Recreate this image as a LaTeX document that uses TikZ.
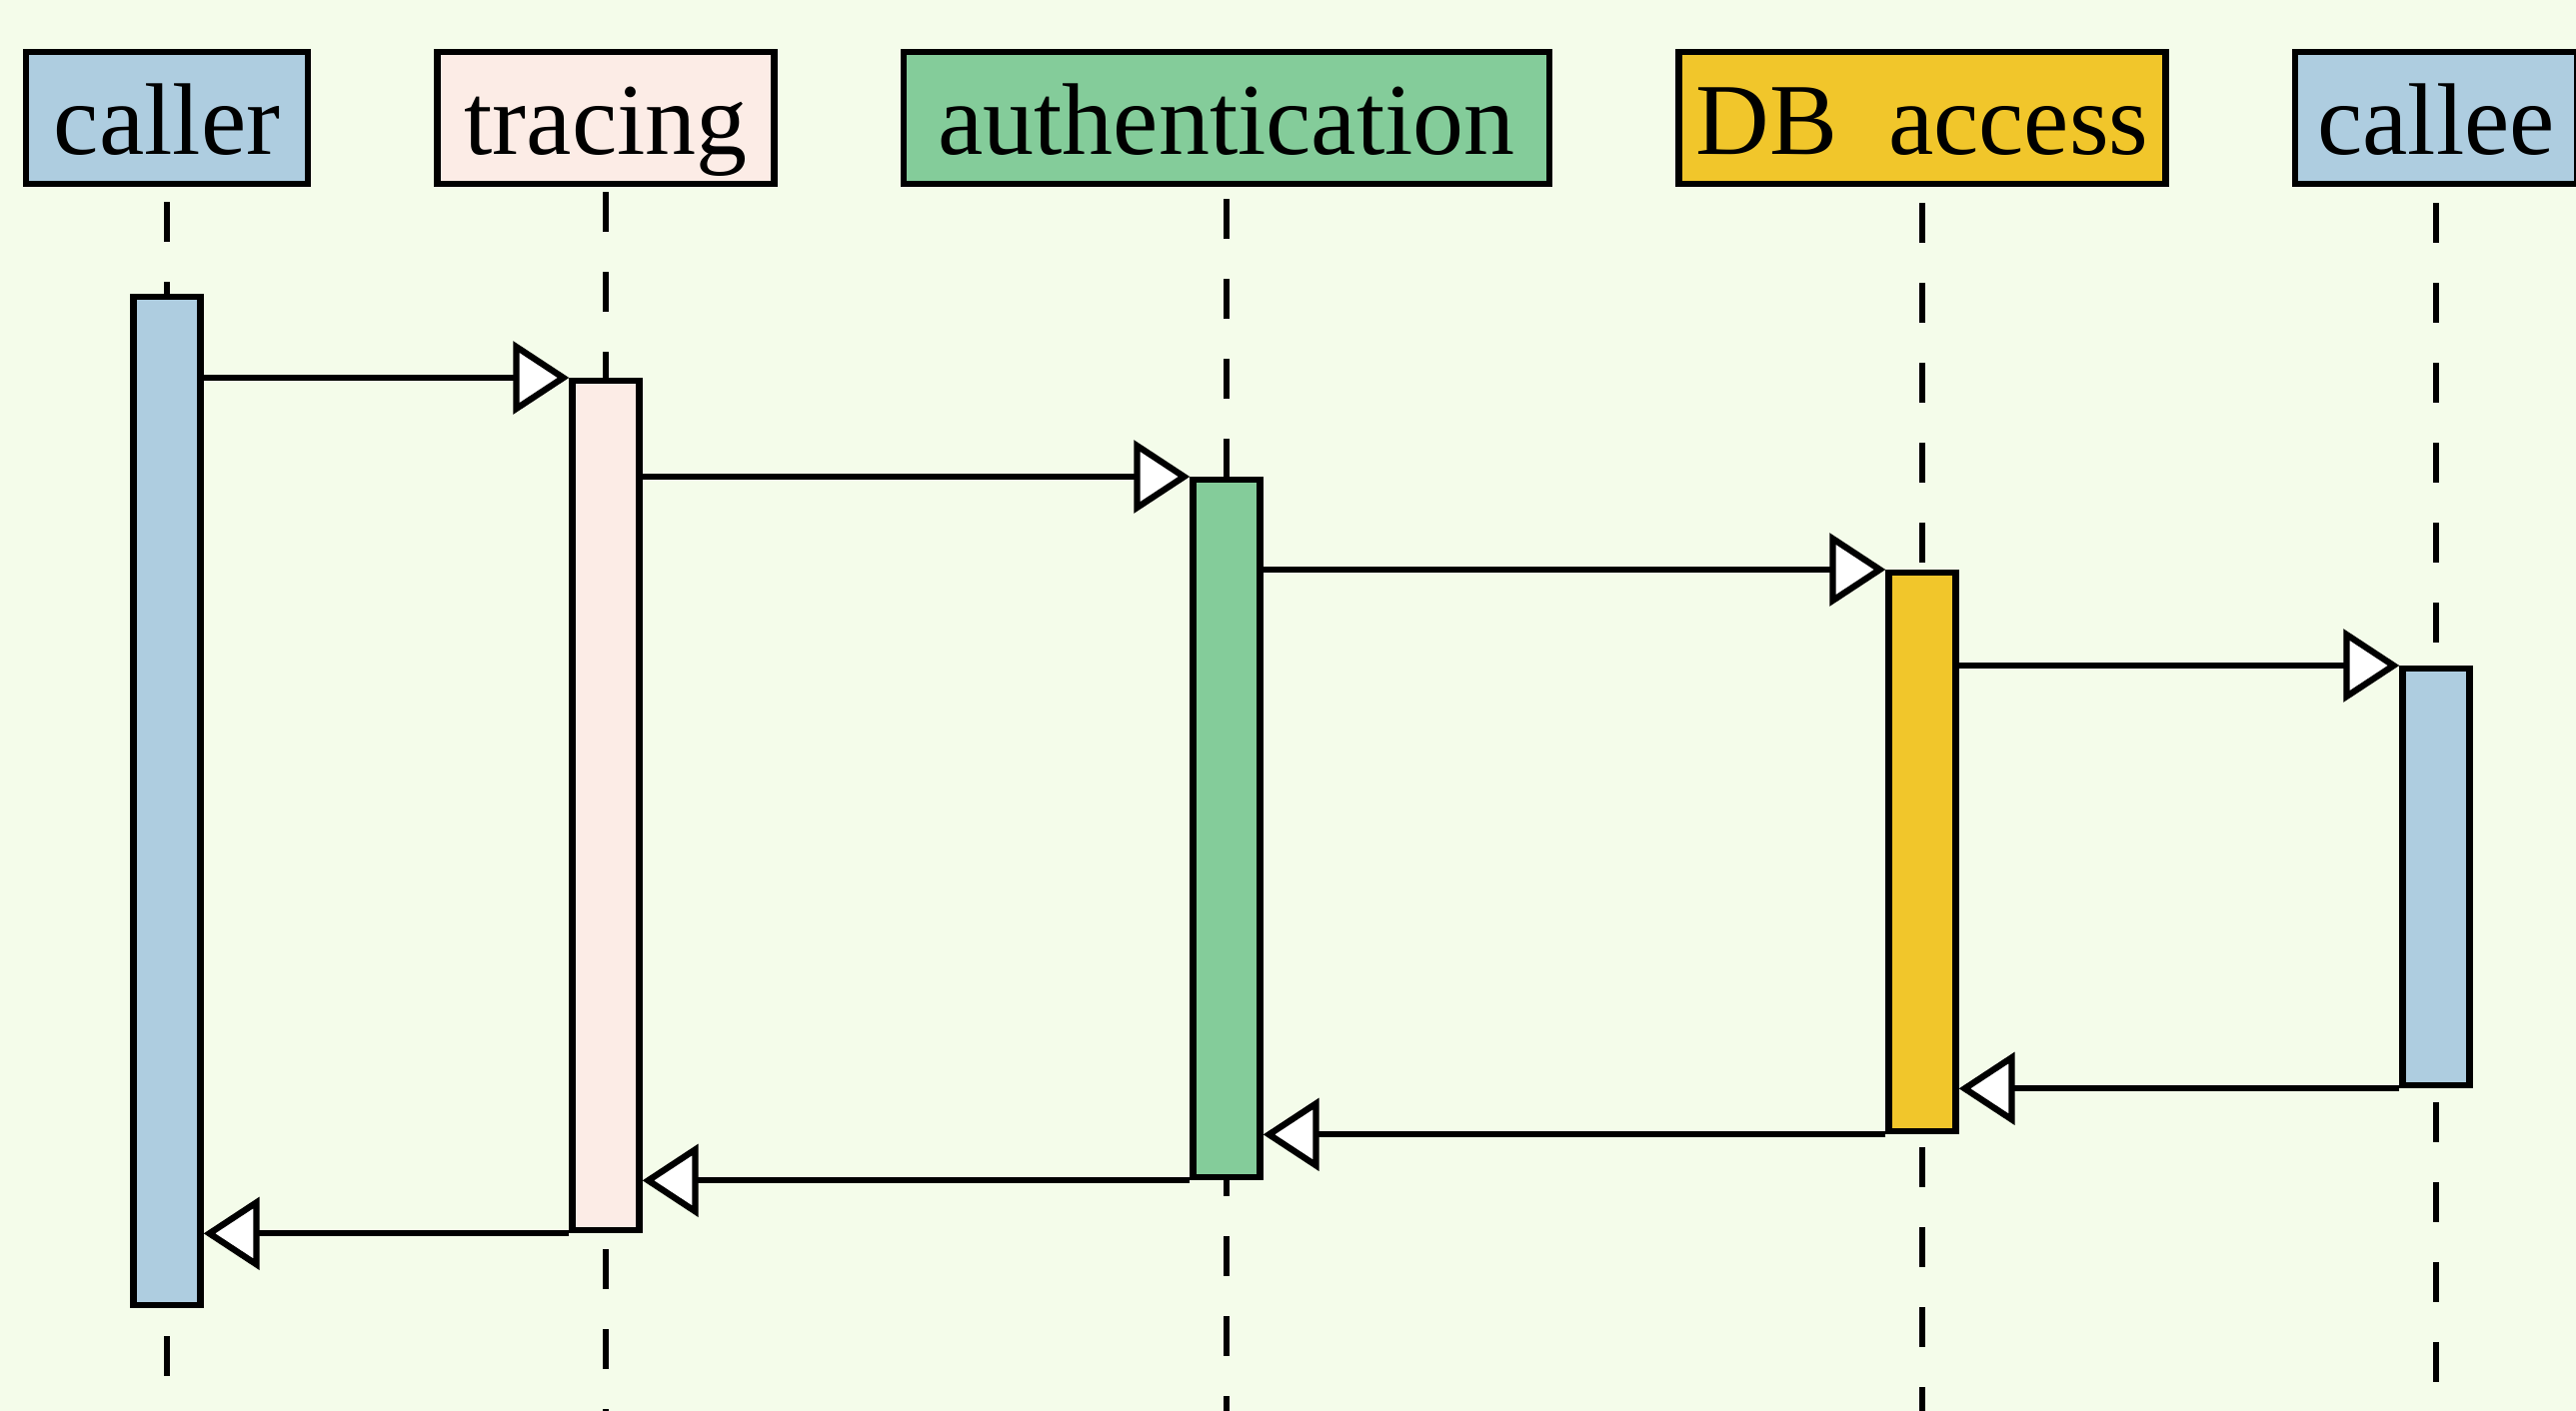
\documentclass[tikz,border=0pt]{standalone}
\usepackage{fontspec}
\setmainfont{Liberation Serif}
\usepackage{tikz}
\usetikzlibrary{arrows.meta}
\definecolor{bgcol}{HTML}{F4FCEA}
\definecolor{callblue}{HTML}{AECDE0}
\definecolor{tracepink}{HTML}{FCECE6}
\definecolor{authgreen}{HTML}{84CC9A}
\definecolor{dbyellow}{HTML}{F1C62B}

\begin{document}
\begin{tikzpicture}
        \useasboundingbox (0,0) rectangle (25.77,-14.12);
        \clip (0,0) rectangle (25.77,-14.12);
        \fill[bgcol] (0,0) rectangle (25.77,-14.12);
        \tikzstyle{head} = [draw, line width=1.8pt, minimum height=1.32cm, text height=0.74cm, text depth=0cm, inner xsep=0pt, font=\fontsize{29}{34}\selectfont]
        \tikzstyle{bar} = [draw, line width=1.8pt, minimum width=0.67cm, inner sep=0pt, anchor=north]
        \tikzstyle{life} = [line width=1.8pt, dash pattern=on 0.4cm off 0.4cm]
        \tikzstyle{msg} = [line width=1.8pt, -{Triangle[fill=white, length=0.56cm, width=0.72cm]}]
        \node[head, fill=callblue, minimum width=2.82cm] (caller) at (1.67,-1.18) {caller};
        \node[head, fill=tracepink, minimum width=3.37cm] (tracing) at (6.06,-1.18) {tracing};
        \node[head, fill=authgreen, minimum width=6.46cm] (auth) at (12.27,-1.18) {authentication};
        \node[head, fill=dbyellow, minimum width=4.87cm] (db) at (19.23,-1.18) {DB\ \ access};
        \node[head, fill=callblue, minimum width=2.82cm] (callee) at (24.37,-1.18) {callee};
        \node[bar, fill=callblue, minimum height=10.09cm] (cbar) at (caller.south |- 0,-2.94) {};
        \node[bar, fill=tracepink, minimum height=8.50cm] (tbar) at (tracing.south |- 0,-3.78) {};
        \node[bar, fill=authgreen, minimum height=6.98cm] (abar) at (auth.south |- 0,-4.77) {};
        \node[bar, fill=dbyellow, minimum height=5.59cm] (dbar) at (db.south |- 0,-5.70) {};
        \node[bar, fill=callblue, minimum height=4.17cm] (ebar) at (callee.south |- 0,-6.66) {};
        \foreach \h/\b/\g/\p in {caller/cbar/0.15/0.52, tracing/tbar/0.05/0.64, auth/abar/0.12/0.24, db/dbar/0.16/0.67, callee/ebar/0.16/0.665} {
            \draw[life] ([yshift=-\g cm]\h.south) -- (\b.north);
            \draw[life, dash phase=\p cm] (\b.south) -- (\b.south |- 0,-14.2);
        }
        \draw[msg] (cbar.east |- tbar.north) -- (tbar.north west);
        \draw[msg] (tbar.east |- abar.north) -- (abar.north west);
        \draw[msg] (abar.east |- dbar.north) -- (dbar.north west);
        \draw[msg] (dbar.east |- ebar.north) -- (ebar.north west);
        \draw[msg] (ebar.south west) -- (dbar.east |- ebar.south);
        \draw[msg] (dbar.south west) -- (abar.east |- dbar.south);
        \draw[msg] (abar.south west) -- (tbar.east |- abar.south);
        \draw[msg] (tbar.south west) -- (cbar.east |- tbar.south);
\end{tikzpicture}
\end{document}
